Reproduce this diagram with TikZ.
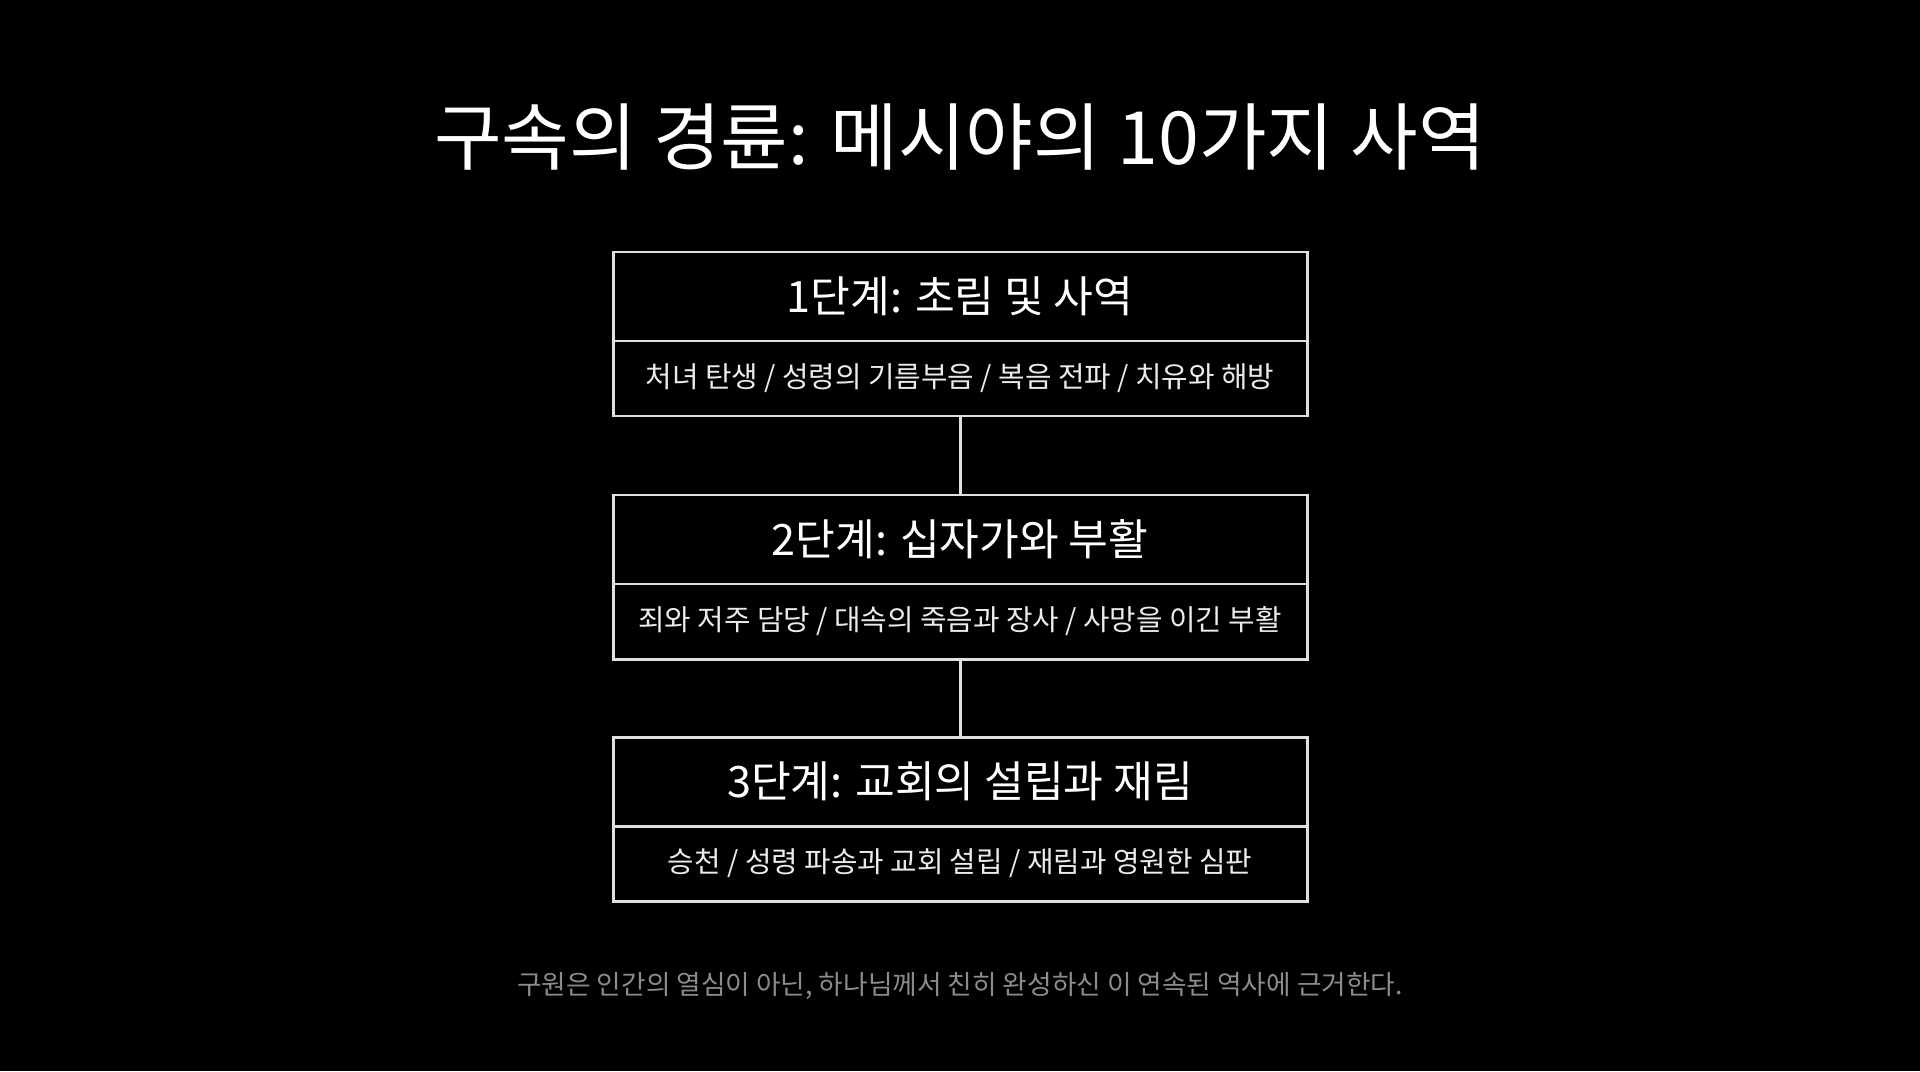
\documentclass[tikz,border=0pt]{standalone}
\usepackage{fontspec}
\setmainfont{Noto Sans CJK KR}
\begin{document}
\begin{tikzpicture}[
	stagehead/.style={draw=white!88!black, line width=0.85pt, minimum width=6.94cm, minimum height=0.89cm, inner sep=0pt, text=white, font=\fontsize{12.3}{14}\selectfont},
	stagebody/.style={draw=white!88!black, line width=0.85pt, minimum width=6.94cm, minimum height=0.75cm, inner sep=0pt, text=white!92!black, font=\fontsize{8.2}{10}\selectfont},
	link/.style={draw=white!88!black, line width=0.85pt}]
					\fill[black] (0,0) rectangle (19.2,-10.71);
					\node[text=white, font=\fontsize{20.9}{25}\selectfont] (title) at (9.6,-1.37) {구속의 경륜: 메시야의 10가지 사역};
					\node[stagehead] (head1) at (9.6,-2.965) {1단계: 초림 및 사역};
					\node[stagebody] (body1) at (9.6,-3.785) {처녀 탄생 / 성령의 기름부음 / 복음 전파 / 치유와 해방};
					\node[stagehead] (head2) at (9.6,-5.395) {2단계: 십자가와 부활};
					\node[stagebody] (body2) at (9.6,-6.215) {죄와 저주 담당 / 대속의 죽음과 장사 / 사망을 이긴 부활};
					\node[stagehead] (head3) at (9.6,-7.815) {3단계: 교회의 설립과 재림};
					\node[stagebody] (body3) at (9.6,-8.635) {승천 / 성령 파송과 교회 설립 / 재림과 영원한 심판};
					\draw[link] (body1.south) -- (head2.north);
					\draw[link] (body2.south) -- (head3.north);
					\node[text=white!55!black, font=\fontsize{7.6}{9}\selectfont] (note) at (9.6,-9.86) {구원은 인간의 열심이 아닌, 하나님께서 친히 완성하신 이 연속된 역사에 근거한다.};
				\end{tikzpicture}
\end{document}
